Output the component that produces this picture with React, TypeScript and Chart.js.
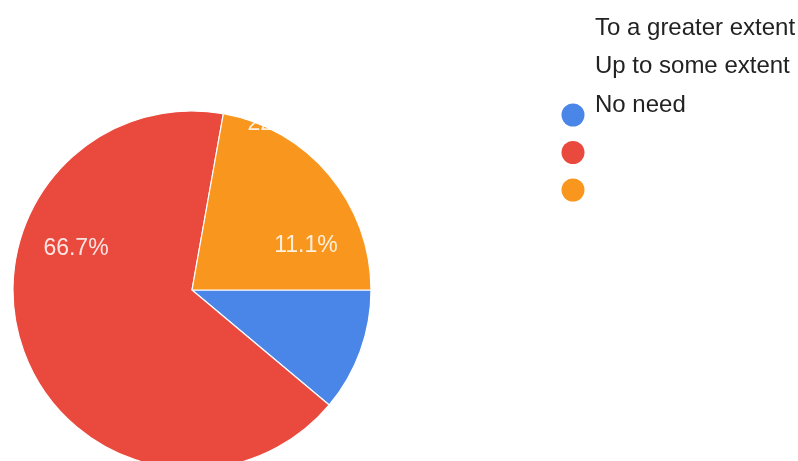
import React, { useEffect, useRef } from "react";
import { Chart, registerables } from "chart.js";

Chart.register(...registerables);

const categories = ["To a greater extent", "Up to some extent", "No need"];
const values = [11.1, 66.7, 22.2];
const percentLabels = ["11.1%", "66.7%", "22.2%"];
const colors = ["#4a86e8", "#ea4a3e", "#f9961e"];

// label placement offsets relative to pie centre (style only)
const labelOffsets = [
  { dx: 114, dy: -44 },
  { dx: -116, dy: -41 },
  { dx: 88, dy: -166 },
];

const legendPlugin = {
  id: "customLegend",
  afterDraw(chart: any) {
    const ctx = chart.ctx;
    const labels = chart.data.labels as string[];
    const bg = chart.data.datasets[0].backgroundColor as string[];
    const textBaselines = [35, 73, 112];
    ctx.save();
    ctx.font = "24px 'Liberation Sans', Arial, sans-serif";
    ctx.fillStyle = "#222";
    ctx.textAlign = "left";
    ctx.textBaseline = "alphabetic";
    labels.forEach((l, i) => {
      ctx.fillText(l, 595, textBaselines[i]);
    });
    labels.forEach((_l, i) => {
      ctx.beginPath();
      ctx.arc(573, 115 + 37.5 * i, 11.5, 0, Math.PI * 2);
      ctx.fillStyle = bg[i];
      ctx.fill();
    });
    ctx.restore();
  },
};

const pctPlugin = {
  id: "pctLabels",
  afterDatasetsDraw(chart: any) {
    const ctx = chart.ctx;
    const meta = chart.getDatasetMeta(0);
    ctx.save();
    ctx.font = "23px 'Liberation Sans', Arial, sans-serif";
    ctx.fillStyle = "rgba(255,255,255,0.85)";
    ctx.textAlign = "center";
    ctx.textBaseline = "middle";
    meta.data.forEach((arc: any, i: number) => {
      const o = labelOffsets[i];
      ctx.fillText(percentLabels[i], arc.x + o.dx, arc.y + o.dy);
    });
    ctx.restore();
  },
};

export default function App() {
  const ref = useRef<HTMLCanvasElement | null>(null);
  useEffect(() => {
    if (!ref.current) return;
    const chart = new Chart(ref.current, {
      type: "pie",
      data: {
        labels: categories,
        datasets: [
          {
            data: values,
            backgroundColor: colors,
            borderColor: "#ffffff",
            borderWidth: 1.2,
          },
        ],
      },
      options: {
        responsive: false,
        animation: false,
        rotation: 90,
        radius: 179,
        layout: { padding: { left: 0, right: 414, top: 119, bottom: 0 } },
        plugins: {
          legend: { display: false },
          tooltip: { enabled: false },
        },
      },
      plugins: [legendPlugin, pctPlugin],
    });
    return () => chart.destroy();
  }, []);
  return (
    <div style={{ position: "fixed", left: 0, top: 0, width: 798, height: 461, background: "#fff" }}>
      <canvas ref={ref} width={798} height={461} />
    </div>
  );
}
